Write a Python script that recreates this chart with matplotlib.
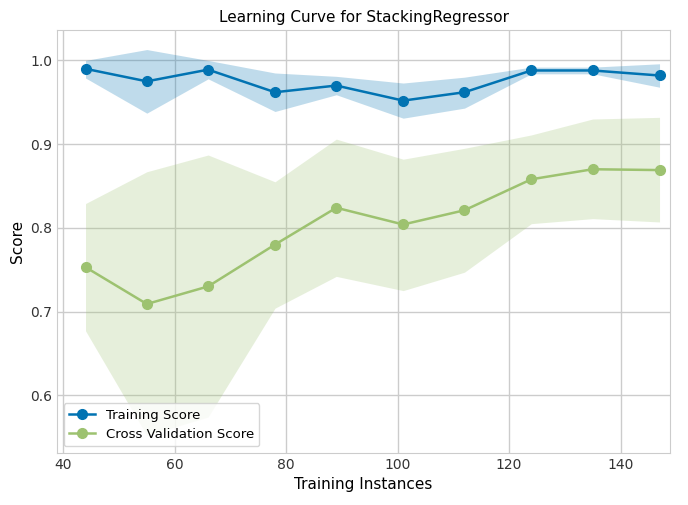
import matplotlib
matplotlib.use("Agg")
import matplotlib.pyplot as plt
import numpy as np

sizes = [44, 55, 66, 78, 89, 101, 112, 124, 135, 147]
train = [0.990, 0.975, 0.989, 0.962, 0.970, 0.952, 0.962, 0.988, 0.988, 0.982]
train_hi = [1.000, 1.013, 1.000, 0.985, 0.981, 0.973, 0.980, 0.992, 0.992, 0.996]
train_lo = [0.979, 0.937, 0.978, 0.939, 0.959, 0.931, 0.943, 0.984, 0.984, 0.968]
cv = [0.753, 0.709, 0.730, 0.780, 0.824, 0.804, 0.821, 0.858, 0.870, 0.869]
cv_hi = [0.829, 0.867, 0.887, 0.855, 0.906, 0.882, 0.895, 0.911, 0.930, 0.932]
cv_lo = [0.677, 0.552, 0.574, 0.704, 0.742, 0.725, 0.747, 0.805, 0.811, 0.807]

blue = "#0173B2"
green = "#9DC270"

fig, ax = plt.subplots(figsize=(6.88, 5.05), dpi=100)
ax.set_facecolor("white")
ax.grid(True, color="#cccccc", linewidth=1.0)
ax.set_axisbelow(True)
for s in ax.spines.values():
    s.set_color("#cccccc")

ax.fill_between(sizes, train_lo, train_hi, color=blue, alpha=0.25, linewidth=0)
ax.fill_between(sizes, cv_lo, cv_hi, color=green, alpha=0.25, linewidth=0)
ax.plot(sizes, train, "o-", color=blue, markersize=7, linewidth=1.8, label="Training Score")
ax.plot(sizes, cv, "o-", color=green, markersize=7, linewidth=1.8, label="Cross Validation Score")

ax.set_xlim(38.9, 148.9)
ax.set_ylim(0.531, 1.036)
ax.set_yticks([0.6, 0.7, 0.8, 0.9, 1.0])
ax.set_xticks([40, 60, 80, 100, 120, 140])
ax.tick_params(colors="#333333", labelsize=10, length=0)
ax.set_title("Learning Curve for StackingRegressor", fontsize=11)
ax.set_xlabel("Training Instances", fontsize=11)
ax.set_ylabel("Score", fontsize=11)
leg = ax.legend(loc="lower left", frameon=True, fontsize=9.5)

fig.subplots_adjust(left=0.083, right=0.974, top=0.94, bottom=0.103)
fig.savefig("out.png", dpi=100)
